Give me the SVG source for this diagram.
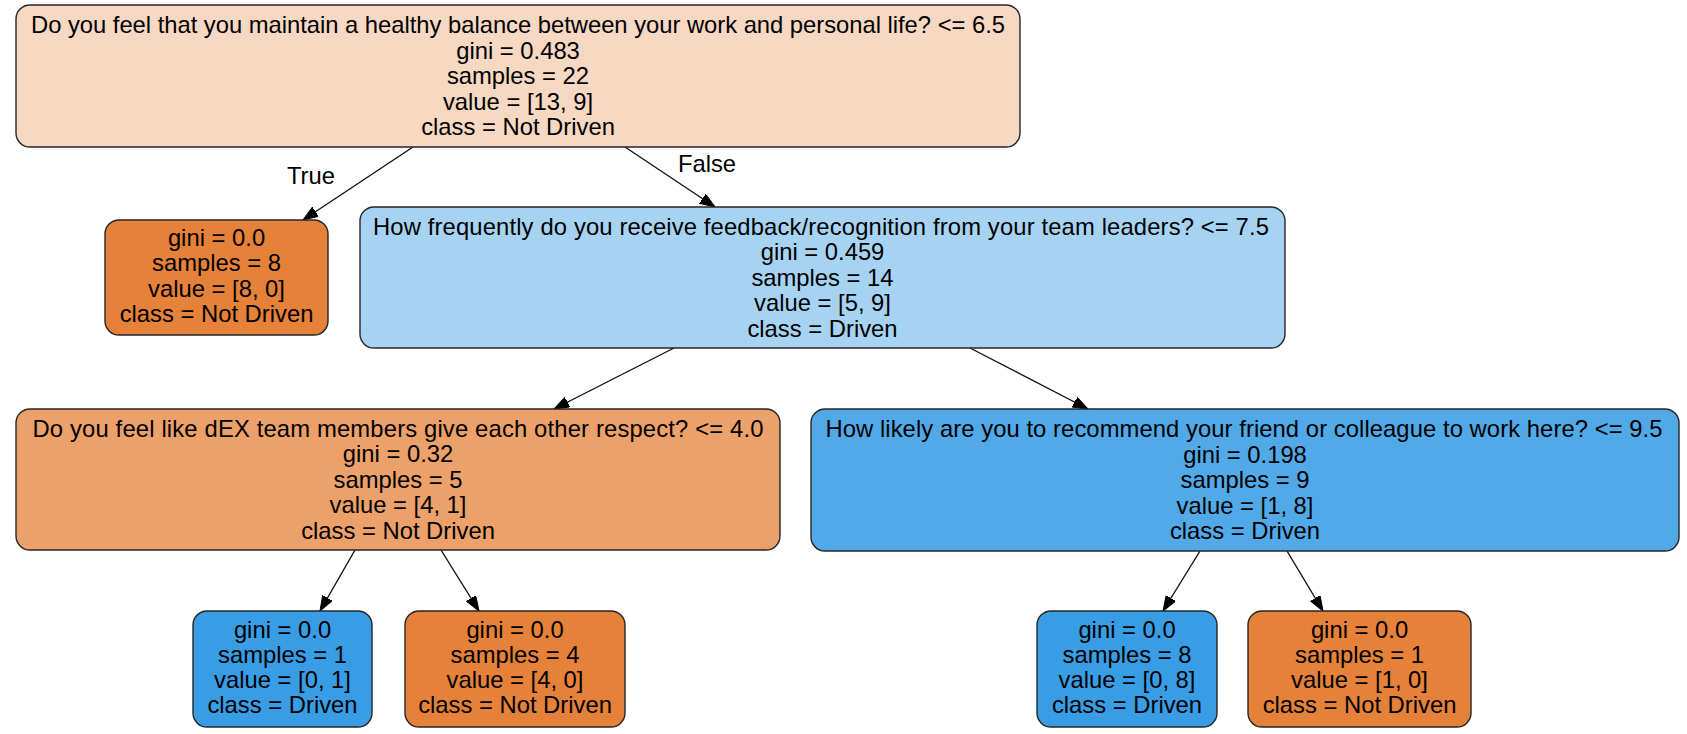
<svg xmlns="http://www.w3.org/2000/svg" width="1687" height="734" viewBox="0 0 1687 734">
<defs>
<marker id="arr" markerUnits="userSpaceOnUse" markerWidth="16" markerHeight="12" refX="15" refY="5.5" orient="auto">
<path d="M0,0 L15,5.5 L0,11 z" fill="#000" stroke="#000" stroke-width="1"/>
</marker>
<style>
.box{stroke:#262626;stroke-width:1.4}
text{font-family:"Liberation Sans",Arial,Helvetica,sans-serif;font-size:23.8px;fill:#000;text-anchor:middle}
.edge{stroke:#111;stroke-width:1.4;fill:none;marker-end:url(#arr)}
</style>
</defs>
<rect width="1687" height="734" fill="#fff"/>
<g id="connectors">
<line class="edge" x1="413" y1="147" x2="303" y2="220"/>
<line class="edge" x1="625" y1="147" x2="715" y2="207"/>
<line class="edge" x1="674" y1="348" x2="554" y2="409"/>
<line class="edge" x1="970" y1="348" x2="1088" y2="409"/>
<line class="edge" x1="355" y1="550" x2="320" y2="611"/>
<line class="edge" x1="441" y1="550" x2="479" y2="611"/>
<line class="edge" x1="1200" y1="551" x2="1163" y2="611"/>
<line class="edge" x1="1287" y1="551" x2="1323" y2="611"/>
<text x="311" y="184">True</text>
<text x="707" y="172">False</text>
</g>
<g id="node0">
<rect class="box" x="16" y="5" width="1004" height="142" rx="14" fill="#f7d8c2"/>
<text x="518" y="33" textLength="974" lengthAdjust="spacing">Do you feel that you maintain a healthy balance between your work and personal life? &lt;= 6.5</text>
<text x="518" y="58.5">gini = 0.483</text>
<text x="518" y="84">samples = 22</text>
<text x="518" y="109.5">value = [13, 9]</text>
<text x="518" y="135">class = Not Driven</text>
</g>
<g id="node1">
<rect class="box" x="105" y="220" width="223" height="115" rx="14" fill="#e58139"/>
<text x="216.5" y="246">gini = 0.0</text>
<text x="216.5" y="271.3">samples = 8</text>
<text x="216.5" y="296.6">value = [8, 0]</text>
<text x="216.5" y="321.9">class = Not Driven</text>
</g>
<g id="node2">
<rect class="box" x="360" y="207" width="925" height="141" rx="14" fill="#a7d3f3"/>
<text x="821" y="234.5" textLength="896" lengthAdjust="spacing">How frequently do you receive feedback/recognition from your team leaders? &lt;= 7.5</text>
<text x="822.5" y="260">gini = 0.459</text>
<text x="822.5" y="285.5">samples = 14</text>
<text x="822.5" y="311">value = [5, 9]</text>
<text x="822.5" y="336.5">class = Driven</text>
</g>
<g id="node3">
<rect class="box" x="16" y="409" width="764" height="141" rx="14" fill="#eca06a"/>
<text x="398" y="436.5" textLength="731" lengthAdjust="spacing">Do you feel like dEX team members give each other respect? &lt;= 4.0</text>
<text x="398" y="462">gini = 0.32</text>
<text x="398" y="487.5">samples = 5</text>
<text x="398" y="513">value = [4, 1]</text>
<text x="398" y="538.5">class = Not Driven</text>
</g>
<g id="node4">
<rect class="box" x="193" y="611" width="179" height="116" rx="14" fill="#399de5"/>
<text x="282.5" y="637.5">gini = 0.0</text>
<text x="282.5" y="662.8">samples = 1</text>
<text x="282.5" y="688.1">value = [0, 1]</text>
<text x="282.5" y="713.4">class = Driven</text>
</g>
<g id="node5">
<rect class="box" x="405" y="611" width="220" height="116" rx="14" fill="#e58139"/>
<text x="515" y="637.5">gini = 0.0</text>
<text x="515" y="662.8">samples = 4</text>
<text x="515" y="688.1">value = [4, 0]</text>
<text x="515" y="713.4">class = Not Driven</text>
</g>
<g id="node6">
<rect class="box" x="811" y="409" width="868" height="142" rx="14" fill="#52a9e8"/>
<text x="1244" y="437" textLength="837" lengthAdjust="spacing">How likely are you to recommend your friend or colleague to work here? &lt;= 9.5</text>
<text x="1245" y="462.5">gini = 0.198</text>
<text x="1245" y="488">samples = 9</text>
<text x="1245" y="513.5">value = [1, 8]</text>
<text x="1245" y="539">class = Driven</text>
</g>
<g id="node7">
<rect class="box" x="1037" y="611" width="180" height="116" rx="14" fill="#399de5"/>
<text x="1127" y="637.5">gini = 0.0</text>
<text x="1127" y="662.8">samples = 8</text>
<text x="1127" y="688.1">value = [0, 8]</text>
<text x="1127" y="713.4">class = Driven</text>
</g>
<g id="node8">
<rect class="box" x="1248" y="611" width="223" height="116" rx="14" fill="#e58139"/>
<text x="1359.5" y="637.5">gini = 0.0</text>
<text x="1359.5" y="662.8">samples = 1</text>
<text x="1359.5" y="688.1">value = [1, 0]</text>
<text x="1359.5" y="713.4">class = Not Driven</text>
</g>
</svg>
